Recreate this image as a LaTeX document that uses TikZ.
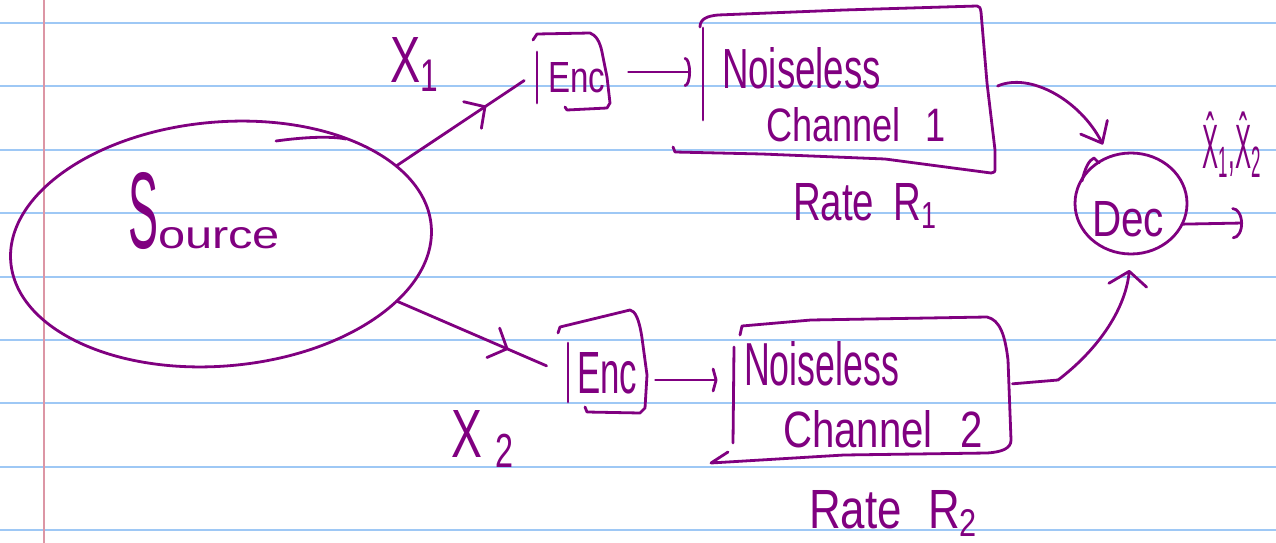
\documentclass[tikz,border=0pt]{standalone}
\usepackage{fontspec}
\setmainfont{Liberation Sans}
\usetikzlibrary{shapes.geometric,arrows.meta,decorations.markings}
\definecolor{ink}{RGB}{128,0,128}
\definecolor{ruled}{RGB}{158,200,245}
\definecolor{marginred}{RGB}{220,150,165}
% handwritten-looking word squeezed to a given width and height
\newcommand{\hw}[3]{\resizebox{#1pt}{#2pt}{#3}}
\begin{document}
\begin{tikzpicture}[x=1pt,y=-1pt,
  pen/.style={draw=ink,line width=2.8pt,line cap=round,line join=round},
  word/.style={text=ink,inner sep=0pt,outer sep=0pt,anchor=base west},
  spot/.style={inner sep=0pt,outer sep=0pt},
  midbarb/.style={postaction={decorate},decoration={markings,
    mark=at position #1 with {\arrow[ink,line width=2.8pt]{Straight Barb[round,length=15pt,width=32pt]}}}},
]
\useasboundingbox (0,0) rectangle (1276,543);
\fill[white] (0,0) rectangle (1276,543);
% ruled paper
\foreach \k in {0,...,8}{\draw[ruled,line width=2pt] (0,{23+63.4*\k}) -- (1276,{23+63.4*\k});}
\draw[marginred,line width=1.6pt] (44,0) -- (44,543);

% source
\node[pen,ellipse,spot,minimum width=422pt,minimum height=244pt,rotate=5] (source) at (221,244) {};
\draw[pen] (276,141) .. controls (305,137) and (330,136) .. (346,139);
\node[word] (sourcetxt) at (128,248) {\hw{30}{76}{S}\hw{122}{21}{ource}};

% encoders
\node[spot,minimum width=77pt,minimum height=78pt] (enc1) at (571,71) {};
\draw[pen] (537,52) -- (537,103);
\draw[pen] (533,40) -- (537,34) -- (590,33) .. controls (596,35) and (600,42) .. (602,52)
  -- (607,77) -- (610,103) -- (607,108) -- (567,110) -- (565,107);
\node[word] (enc1txt) at (548,92) {\hw{57}{30}{Enc}};

\node[spot,minimum width=89pt,minimum height=102pt] (enc2) at (603,361) {};
\draw[pen] (568,343) -- (568,402);
\draw[pen] (558,333) -- (560,327) -- (630,310) .. controls (635,311) and (639,318) .. (642,338)
  -- (647,375) -- (645,408) -- (640,413) -- (587,412) -- (585,407);
\node[word] (enc2txt) at (577,393) {\hw{60}{41}{Enc}};

% channels
\node[spot,minimum width=290pt,minimum height=160pt] (ch1) at (848,91) {};
\draw[pen] (703,28) -- (703,120);
\draw[pen] (700,27) .. controls (700,19) and (707,16) .. (718,15) -- (844,10) -- (977,6)
  .. controls (980,7) .. (981,12) -- (987,83) -- (995,150) -- (995,168)
  .. controls (995,172) .. (991,173) -- (885,159) -- (762,154) -- (675,152) -- (673,147);
\node[word] (ch1a) at (722,88) {\hw{159}{41}{Noiseless}};
\node[word] (ch1b) at (766,141) {\hw{180}{34}{Channel\hspace{0.7em}1}};
\node[word] (rate1) at (793,220) {\hw{145}{37}{Rate\hspace{0.5em}R\textsubscript{1}}};

\node[spot,minimum width=277pt,minimum height=140pt] (ch2) at (872,390) {};
\draw[pen] (734,347) -- (733,443);
\draw[pen] (740,335) -- (742,326) -- (811,320) -- (987,317)
  .. controls (1000,320) and (1005,335) .. (1008,360) -- (1011,440)
  .. controls (1011,448) and (1003,452) .. (987,453) -- (844,455) -- (711,463) -- (728,452);
\node[word] (ch2a) at (744,385) {\hw{155}{44}{Noiseless}};
\node[word] (ch2b) at (783,447) {\hw{200}{37}{Channel\hspace{0.7em}2}};
\node[word] (rate2) at (809,528) {\hw{170}{38}{Rate\hspace{0.6em}R\textsubscript{2}}};

% decoder
\node[pen,ellipse,spot,minimum width=112pt,minimum height=101pt] (dec) at (1131,203.5) {};
\draw[pen] (1082,181) .. controls (1085,168) and (1089,160) .. (1094,158) -- (1099,163);
\node[word] (dectxt) at (1092,236) {\hw{72}{35}{Dec}};
\coordinate (out) at (1243,223);

% labels
\node[word] (x1) at (390,82) {\hw{50}{45}{X\textsubscript{1}}};
\node[word] (x2) at (451,457) {\hw{65}{47}{X\hspace{0.3em}\textsubscript{2}}};
\node[word] (xhat) at (1202,168) {\hw{60}{56}{\^{X}\textsubscript{1},\^{X}\textsubscript{2}}};

% connectors
\draw[pen,midbarb=0.66,shorten >=10pt] (source.19) -- ([yshift=-4pt]enc1.west);
\draw[pen,midbarb=0.69,shorten >=13pt] (source.-23) -- ([yshift=-10pt]enc2.west);
\draw[pen,-{Arc Barb[round,length=6pt,width=30pt]},shorten <=19pt,shorten >=12pt]
  ([yshift=-1pt]enc1.east) -- ([yshift=-1pt]enc1.east -| ch1.west);
\draw[pen,-{Straight Barb[round,length=3pt,width=22pt]},shorten <=8pt,shorten >=16pt]
  ([yshift=-19pt]enc2.east) -- ([yshift=-19pt]enc2.east -| ch2.west);
\draw[pen,-{Straight Barb[round,length=18pt,width=30pt]},shorten <=5pt,shorten >=14pt]
  ([yshift=3pt]ch1.east) .. controls (1030,72) and (1080,100) .. (dec.115);
\draw[pen,-{Straight Barb[round,length=14pt,width=38pt]},shorten <=2pt,shorten >=16pt]
  ([yshift=6pt]ch2.east) -- (1058,380) .. controls (1095,352) and (1125,312) .. (dec.south);
\draw[pen,-{Arc Barb[round,length=10pt,width=32pt]}] (dec.-22) -- (out);
\end{tikzpicture}
\end{document}
